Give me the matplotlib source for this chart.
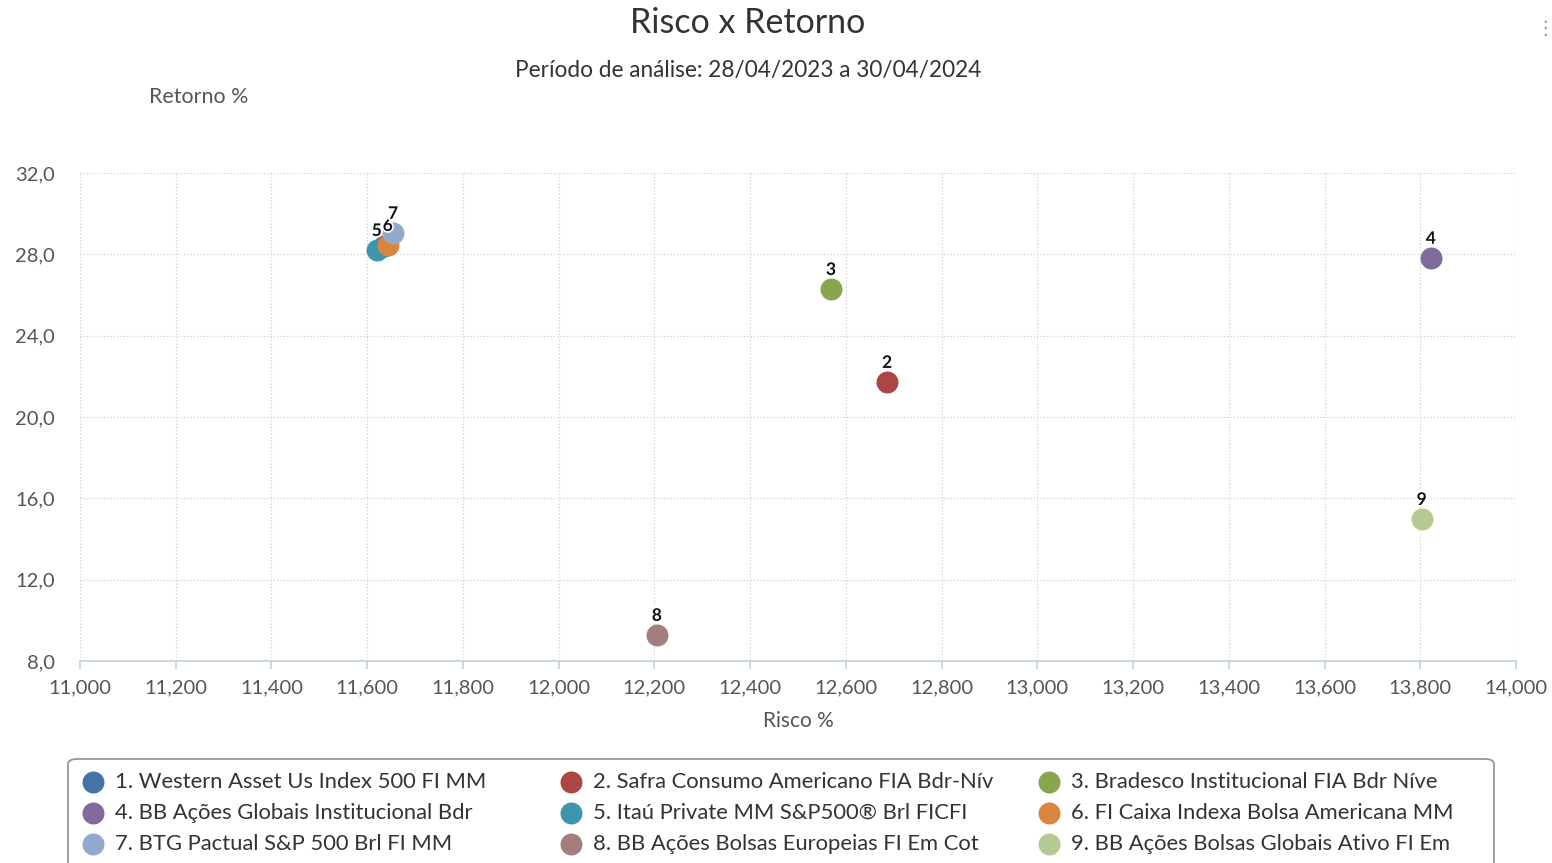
import matplotlib
matplotlib.use("Agg")
import matplotlib.pyplot as plt
import matplotlib.patheffects as pe
from matplotlib.patches import FancyBboxPatch
from matplotlib.ticker import FuncFormatter, MultipleLocator

plt.rcParams['font.family'] = ['Lato', 'DejaVu Sans']

names = [
    "1. Western Asset Us Index 500 FI MM",
    "2. Safra Consumo Americano FIA Bdr-Nív",
    "3. Bradesco Institucional FIA Bdr Níve",
    "4. BB Ações Globais Institucional Bdr",
    "5. Itaú Private MM S&P500® Brl FICFI",
    "6. FI Caixa Indexa Bolsa Americana MM",
    "7. BTG Pactual S&P 500 Brl FI MM",
    "8. BB Ações Bolsas Europeias FI Em Cot",
    "9. BB Ações Bolsas Globais Ativo FI Em",
]
labels = ["1", "2", "3", "4", "5", "6", "7", "8", "9"]
risco = [11635, 12686, 12569, 13822, 11620, 11643, 11654, 12205, 13803]
retorno = [28.4, 21.72, 26.29, 27.82, 28.21, 28.46, 29.05, 9.28, 14.98]
colors = ["#4572A7", "#AA4643", "#89A54E", "#80699B", "#3D96AE",
          "#DB843D", "#92A8CD", "#A47D7C", "#B5CA92"]
show_label = [False, True, True, True, True, True, True, True, True]

W, H = 1552, 863
fig = plt.figure(figsize=(W / 100, H / 100), dpi=100)
ax = fig.add_axes([80/W, 1-661/H, (1516-80)/W, (661-173)/H])

handles = []
for i in range(len(names)):
    h = ax.scatter(risco[i], retorno[i], s=250, color=colors[i], zorder=3 + i,
                   linewidths=0, label=names[i])
    handles.append(h)
    if show_label[i]:
        ax.annotate(labels[i], (risco[i], retorno[i]), xytext=(0, 8),
                    textcoords="offset points", ha="center", va="bottom",
                    fontsize=12.5, fontweight="bold", color="#111111", zorder=20 + i,
                    path_effects=[pe.withStroke(linewidth=2.5, foreground="white")])

ax.set_xlim(11000, 14000)
ax.set_ylim(8, 32)
ax.xaxis.set_major_locator(MultipleLocator(200))
ax.yaxis.set_major_locator(MultipleLocator(4))
ax.xaxis.set_major_formatter(FuncFormatter(lambda v, p: f"{v:,.0f}"))
ax.yaxis.set_major_formatter(FuncFormatter(lambda v, p: f"{v:.1f}".replace(".", ",")))

for s in ["top", "right", "left"]:
    ax.spines[s].set_visible(False)
ax.spines["bottom"].set_color("#C0D0E0")
ax.spines["bottom"].set_linewidth(1.2)
ax.grid(True, color="#C8C8C8", linestyle=(0, (1, 2)), linewidth=0.8)
ax.set_axisbelow(True)
ax.tick_params(axis="x", colors="#C0D0E0", length=6, width=1.2, labelcolor="#555555",
               labelsize=14.5, pad=7)
ax.tick_params(axis="y", length=0, labelcolor="#555555", labelsize=14.5, pad=18)

ax.set_xlabel("Risco %", fontsize=15, color="#555555", labelpad=11)
fig.text(199/W, 1-97/H, "Retorno %", fontsize=15.4, color="#555555",
         ha="center", va="center")

fig.text(748/W, 1-23/H, "Risco x Retorno", fontsize=24.5, color="#333333",
         ha="center", va="center")
fig.text(748/W, 1-70/H, "Período de análise: 28/04/2023 a 30/04/2024",
         fontsize=16.3, color="#333333", ha="center", va="center")
fig.text(1545/W, 1-28/H, "⋮", fontsize=14, color="#999999", ha="center",
         va="center", family=["DejaVu Sans"])

# legend frame
frame = FancyBboxPatch((68/W, 1-880/H), (1494-68)/W, (880-759)/H,
                       boxstyle="round,pad=0,rounding_size=0.006",
                       transform=fig.transFigure, facecolor="white",
                       edgecolor="#909090", linewidth=1.2, zorder=0)
fig.patches.append(frame)

col_x = [93, 571, 1049]
fs = 15.8
fs_px = fs * 100 / 72
hl = 1.1
for c in range(3):
    idx = [c, c + 3, c + 6]
    left = col_x[c] - hl * fs_px / 2
    text_x = col_x[c] + 22
    leg = fig.legend([handles[i] for i in idx], [names[i] for i in idx],
                     loc="upper left", bbox_to_anchor=(left / W, 1 - 772 / H),
                     frameon=False, fontsize=fs, handlelength=hl,
                     handletextpad=(text_x - left - hl * fs_px) / fs_px,
                     labelspacing=0.5, borderpad=0, borderaxespad=0,
                     labelcolor="#333333")

fig.savefig("out.png", dpi=100)
